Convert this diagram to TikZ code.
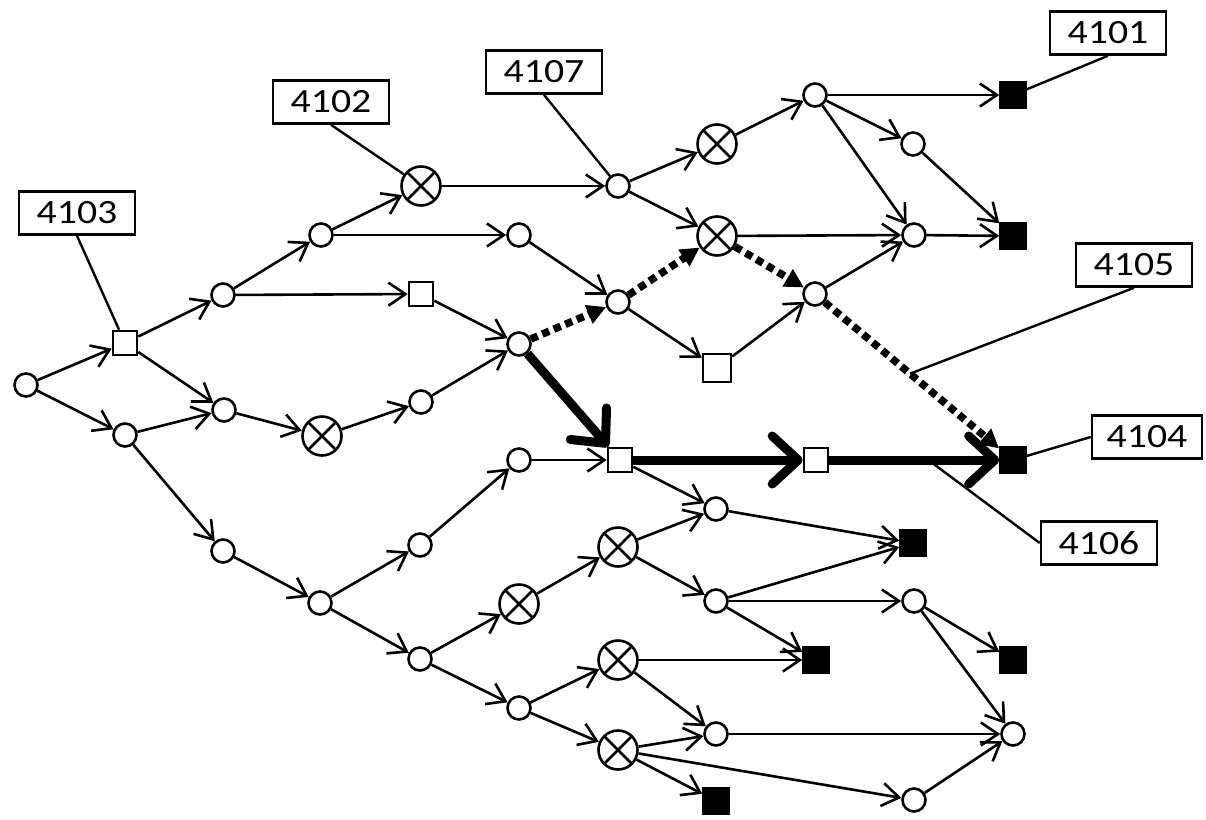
\documentclass[tikz,border=0pt]{standalone}
\usepackage{fontspec}
\setmainfont{Carlito}[FakeStretch=1.17]
\usetikzlibrary{arrows.meta,calc}
\begin{document}
\begin{tikzpicture}[x=1pt,y=-1pt,
  every node/.style={inner sep=0pt,line width=2.6pt},
  cnode/.style={circle,draw,fill=white,minimum size=23pt},
  xnode/.style={circle,draw,fill=white,minimum size=39pt,
    path picture={\draw[line width=2.6pt]
      (path picture bounding box.north west) -- (path picture bounding box.south east)
      (path picture bounding box.north east) -- (path picture bounding box.south west);}},
  hsq/.style={rectangle,draw,fill=white,minimum size=24pt},
  bsq/.style={rectangle,draw,fill=black,minimum size=25pt},
  lbl/.style={rectangle,draw,fill=white,minimum width=116pt,minimum height=43pt,
    font=\fontsize{34}{34}\selectfont},
  arr/.style={line width=2.6pt,-{Straight Barb[length=17pt,width=23pt]}},
  heavy/.style={line width=9pt,-{Straight Barb[length=26pt,width=48pt,round]}},
  dotarr/.style={line width=7.5pt,dash pattern=on 7.5pt off 5pt,-{Triangle[length=19pt,width=19pt]}},
  leader/.style={line width=2.4pt}]
\useasboundingbox (0,0) rectangle (1206,819);

% nodes
\node[cnode] (A0) at (26,385) {};
\node[hsq] (S1) at (125,343) {};
\node[cnode] (B1) at (125,435) {};
\node[cnode] (C1) at (223,295) {};
\node[cnode] (C2) at (224,410) {};
\node[cnode] (C3) at (223,551) {};
\node[cnode] (D1) at (321,235) {};
\node[xnode] (X2) at (322,436) {};
\node[cnode] (D3) at (320,603) {};
\node[xnode] (X1) at (421,186) {};
\node[hsq] (Sq2) at (421,294) {};
\node[cnode] (D2) at (421,402) {};
\node[cnode] (E3) at (420,545) {};
\node[cnode] (E4) at (420,659) {};
\node[cnode] (E1) at (519,235) {};
\node[cnode] (E2) at (519,344) {};
\node[cnode] (F3) at (519,460) {};
\node[xnode] (X3) at (519,604) {};
\node[cnode] (F4) at (519,708) {};
\node[cnode] (F1) at (618,186) {};
\node[cnode] (F2) at (618,302) {};
\node[hsq] (Sq3) at (620,460) {};
\node[xnode] (X4) at (618,547) {};
\node[xnode] (X5) at (618,660) {};
\node[xnode] (X6) at (618,750) {};
\node[xnode] (G1) at (717,144) {};
\node[xnode] (G2) at (717,236) {};
\node[hsq,minimum size=28pt] (Sq4) at (717,368) {};
\node[cnode] (H1) at (716,509) {};
\node[cnode] (H2) at (716,601) {};
\node[cnode] (H3) at (716,734) {};
\node[bsq] (Bk1) at (716,801) {};
\node[cnode] (I1) at (815,95) {};
\node[cnode] (I2) at (815,294) {};
\node[hsq] (Sq5) at (816,460) {};
\node[bsq] (Bk2) at (816,660) {};
\node[cnode] (J1) at (913,144) {};
\node[cnode] (J2) at (914,235) {};
\node[bsq] (Bk3) at (913,543) {};
\node[cnode] (J3) at (914,601) {};
\node[cnode] (J4) at (914,800) {};
\node[bsq] (Bk4) at (1013,95) {};
\node[bsq] (Bk5) at (1013,236) {};
\node[bsq] (Bk6) at (1013,460) {};
\node[bsq] (Bk7) at (1013,660) {};
\node[cnode] (K1) at (1013,734) {};

% labels
\node[lbl] (L4101) at (1108,33) {4101};
\node[lbl] (L4102) at (331,102) {4102};
\node[lbl] (L4103) at (77,213) {4103};
\node[lbl] (L4107) at (544,72) {4107};
\node[lbl] (L4105) at (1134,265) {4105};
\node[lbl,minimum width=110pt] (L4104) at (1147,437) {4104};
\node[lbl] (L4106) at (1099,543) {4106};

% thin arrows
\draw[arr] (A0) -- (S1);
\draw[arr] (A0) -- (B1);
\draw[arr] (S1) -- (C1);
\draw[arr] (S1) -- (C2);
\draw[arr] (B1) -- (C2);
\draw[arr] (B1) -- (C3);
\draw[arr] (C1) -- (D1);
\draw[arr] (C1) -- (Sq2);
\draw[arr] (C2) -- (X2);
\draw[arr] (X2) -- (D2);
\draw[arr] (C3) -- (D3);
\draw[arr] (D1) -- (X1);
\draw[arr] (D1) -- (E1);
\draw[arr] (X1) -- (F1);
\draw[arr] (Sq2) -- (E2);
\draw[arr] (D2) -- (E2);
\draw[arr] (E1) -- (F2);
\draw[arr] (D3) -- (E3);
\draw[arr] (D3) -- (E4);
\draw[arr] (E3) -- (F3);
\draw[arr] (E4) -- (X3);
\draw[arr] (E4) -- (F4);
\draw[arr] (F3) -- (Sq3);
\draw[arr] (F1) -- (G1);
\draw[arr] (F1) -- (G2);
\draw[arr] (F2) -- (Sq4);
\draw[arr] (G1) -- (I1);
\draw[arr] (G2) -- (J2);
\draw[arr] (Sq4) -- (I2);
\draw[arr] (I2) -- (J2);
\draw[arr] (I1) -- (Bk4);
\draw[arr] (I1) -- (J1);
\draw[arr] (I1) -- (J2);
\draw[arr] (J1) -- (Bk5);
\draw[arr] (J2) -- (Bk5);
\draw[arr] (Sq3) -- (H1);
\draw[arr] (X3) -- (X4);
\draw[arr] (X4) -- (H1);
\draw[arr] (X4) -- (H2);
\draw[arr] (F4) -- (X5);
\draw[arr] (F4) -- (X6);
\draw[arr] (X5) -- (Bk2);
\draw[arr] (X5) -- (H3);
\draw[arr] (X6) -- (H3);
\draw[arr] (X6) -- (Bk1);
\draw[arr] (X6) -- (J4);
\draw[arr] (H1) -- (Bk3);
\draw[arr] (H2) -- (Bk3);
\draw[arr] (H2) -- (J3);
\draw[arr] (H2) -- (Bk2);
\draw[arr] (H3) -- (K1);
\draw[arr] (J3) -- (Bk7);
\draw[arr] (J3) -- (K1);
\draw[arr] (J4) -- (K1);

% dotted route
\draw[dotarr] (E2) -- (F2);
\draw[dotarr] (F2) -- (G2);
\draw[dotarr] (G2) -- (I2);
\draw[dotarr] (I2) -- (Bk6);

% heavy route
\draw[heavy] (E2) -- (Sq3);
\draw[heavy] (Sq3) -- (Sq5);
\draw[heavy] (Sq5) -- (Bk6);

% leader lines
\coordinate (P5) at ($(I2)!0.48!(Bk6)$);
\coordinate (P6) at ($(Sq5)!0.57!(Bk6)$);
\draw[leader] (L4101.south) -- (Bk4);
\draw[leader] (L4102.south) -- (X1);
\draw[leader] (L4103.south) -- (S1);
\draw[leader] (L4107.south) -- (F1);
\draw[leader] (L4105.south) -- (P5);
\draw[leader] (L4104.west) -- (Bk6);
\draw[leader] (L4106.west) -- (P6);
\end{tikzpicture}
\end{document}
